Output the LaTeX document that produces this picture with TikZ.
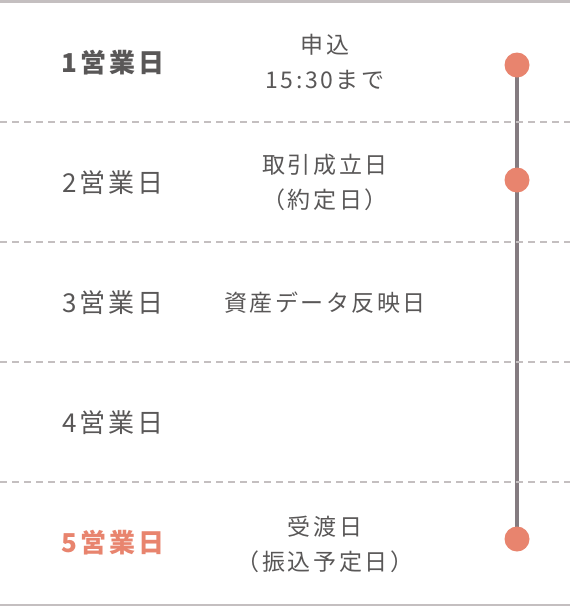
\documentclass[tikz,border=0pt]{standalone}
\usepackage{fontspec}
\usetikzlibrary{backgrounds}
\newfontfamily\daysfont[LetterSpace=11]{Noto Sans CJK JP}
\newfontfamily\notefont[LetterSpace=11]{Noto Sans CJK JP}
\definecolor{txtgray}{HTML}{595757}
\definecolor{rulegray}{HTML}{C4BFC0}
\definecolor{linegray}{HTML}{847B80}
\definecolor{salmon}{HTML}{E8846E}
\tikzset{
	day/.style={anchor=center,inner sep=0pt,text=txtgray,font=\daysfont\fontsize{26}{26}\selectfont},
	note/.style={anchor=center,inner sep=0pt,align=center,text=txtgray,font=\notefont\fontsize{23}{35}\selectfont},
	dot/.style={circle,fill=salmon,inner sep=0pt,minimum size=25pt},
	sep/.style={rulegray,line width=1.5pt,dash pattern=on 7pt off 5pt},
	edge/.style={rulegray,line width=2.5pt}
}
\begin{document}
\begin{tikzpicture}[x=1pt,y=-1pt]
	\useasboundingbox (0,0) rectangle (570,606);
	\draw[edge] (0,1.25) -- (570,1.25);
	\draw[edge] (0,604.75) -- (570,604.75);
	\draw[sep] (0,122) -- (570,122);
	\draw[sep] (0,242) -- (570,242);
	\draw[sep] (0,362) -- (570,362);
	\draw[sep] (0,482) -- (570,482);
	% days
	\node[day,font=\daysfont\bfseries\fontsize{26}{26}\selectfont] (day1) at (113,63) {1営業日};
	\node[day] (day2) at (113,183) {2営業日};
	\node[day] (day3) at (113,303) {3営業日};
	\node[day] (day4) at (113,423) {4営業日};
	\node[day,text=salmon,font=\daysfont\bfseries\fontsize{26}{26}\selectfont] (day5) at (113,543) {5営業日};
	% notes
	\node[note] (note1) at (325,62) {申込\\15:30まで};
	\node[note] (note2) at (325,182) {取引成立日\\（約定日）};
	\node[note] (note3) at (325,303) {資産データ反映日};
	\node[note] (note5) at (325,544) {受渡日\\（振込予定日）};
	% timeline
	\node[dot] (p1) at (517,65) {};
	\node[dot] (p2) at (517,180) {};
	\node[dot] (p5) at (517,539) {};
	\begin{pgfonlayer}{background}
		\draw[linegray,line width=4pt] (p1.center) -- (p5.center);
	\end{pgfonlayer}
\end{tikzpicture}
\end{document}
